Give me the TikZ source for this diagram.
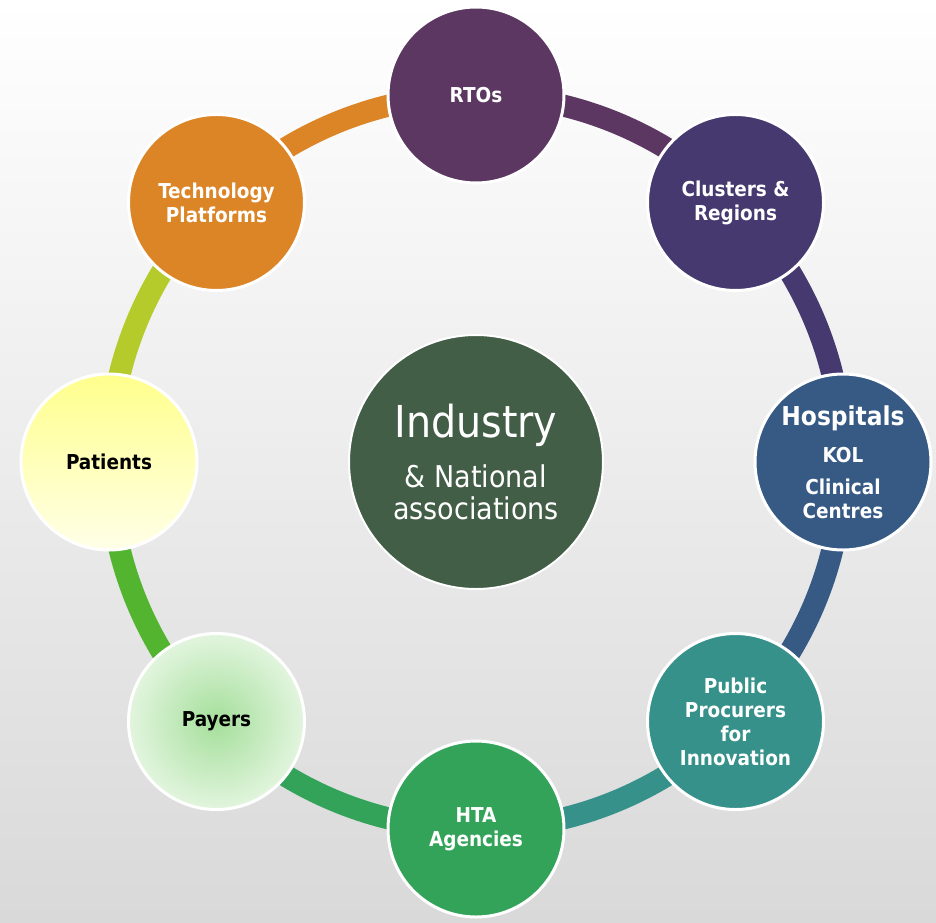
\documentclass[tikz,border=0pt]{standalone}
\usepackage{fontspec}
\setmainfont{DejaVu Sans Condensed}
\usetikzlibrary{positioning,backgrounds}

\definecolor{rtocol}{HTML}{5C3762}
\definecolor{clustercol}{HTML}{453970}
\definecolor{hospcol}{HTML}{365A84}
\definecolor{procol}{HTML}{35918A}
\definecolor{htacol}{HTML}{33A35A}
\definecolor{payarc}{HTML}{52B42F}
\definecolor{patarc}{HTML}{B5CA2B}
\definecolor{techcol}{HTML}{DC8526}
\definecolor{indcol}{HTML}{435E46}
\definecolor{bgbot}{HTML}{D9D9D9}

\begin{document}
\begin{tikzpicture}[x=1pt,y=1pt,
  ring node/.style={circle,draw=white,line width=3pt,minimum size=176pt,inner sep=0pt,
    align=center,text=white,font=\bfseries\fontsize{20.5}{24}\selectfont},
  ring arc/.style={line width=22pt,bend left=22.5,looseness=0.886}]
   \node[ring node,fill=rtocol] (rtos) at (90:367) {RTOs};
   \node[ring node,fill=clustercol] (clusters) at (45:367) {Clusters \&\\Regions};
   \node[ring node,fill=hospcol] (hosp) at (0:367)
     {{\fontsize{26}{30}\selectfont Hospitals}\\[13pt]KOL\\[8pt]Clinical\\Centres};
   \node[ring node,fill=procol] (procurers) at (-45:367) {Public\\Procurers\\for\\Innovation};
   \node[ring node,fill=htacol] (hta) at (-90:367) {HTA\\Agencies};
   \node[ring node,inner color={rgb,255:red,165;green,223;blue,155},
     outer color={rgb,255:red,226;green,245;blue,222},text=black] (payers) at (-135:367) {Payers};
   \node[ring node,top color={rgb,255:red,255;green,255;blue,140},
     bottom color={rgb,255:red,255;green,255;blue,232},text=black] (patients) at (180:367) {Patients};
   \node[ring node,fill=techcol] (tech) at (135:367) {Technology\\Platforms};
   \node[circle,draw=white,line width=2pt,minimum size=254pt,fill=indcol,text=white,align=center,
     font=\fontsize{30}{32}\selectfont] (industry) at (0,0)
     {{\fontsize{44}{46}\selectfont Industry}\\[18pt]\& National\\associations};
   % ring behind the circles
   \begin{scope}[on background layer]
    \shade[top color=white,bottom color=bgbot] (-476,-460) rectangle (460,462);
    \draw[ring arc,rtocol] (rtos.center) to (clusters.center);
    \draw[ring arc,clustercol] (clusters.center) to (hosp.center);
    \draw[ring arc,hospcol] (hosp.center) to (procurers.center);
    \draw[ring arc,procol] (procurers.center) to (hta.center);
    \draw[ring arc,htacol] (hta.center) to (payers.center);
    \draw[ring arc,payarc] (payers.center) to (patients.center);
    \draw[ring arc,patarc] (patients.center) to (tech.center);
    \draw[ring arc,techcol] (tech.center) to (rtos.center);
   \end{scope}
\end{tikzpicture}
\end{document}
